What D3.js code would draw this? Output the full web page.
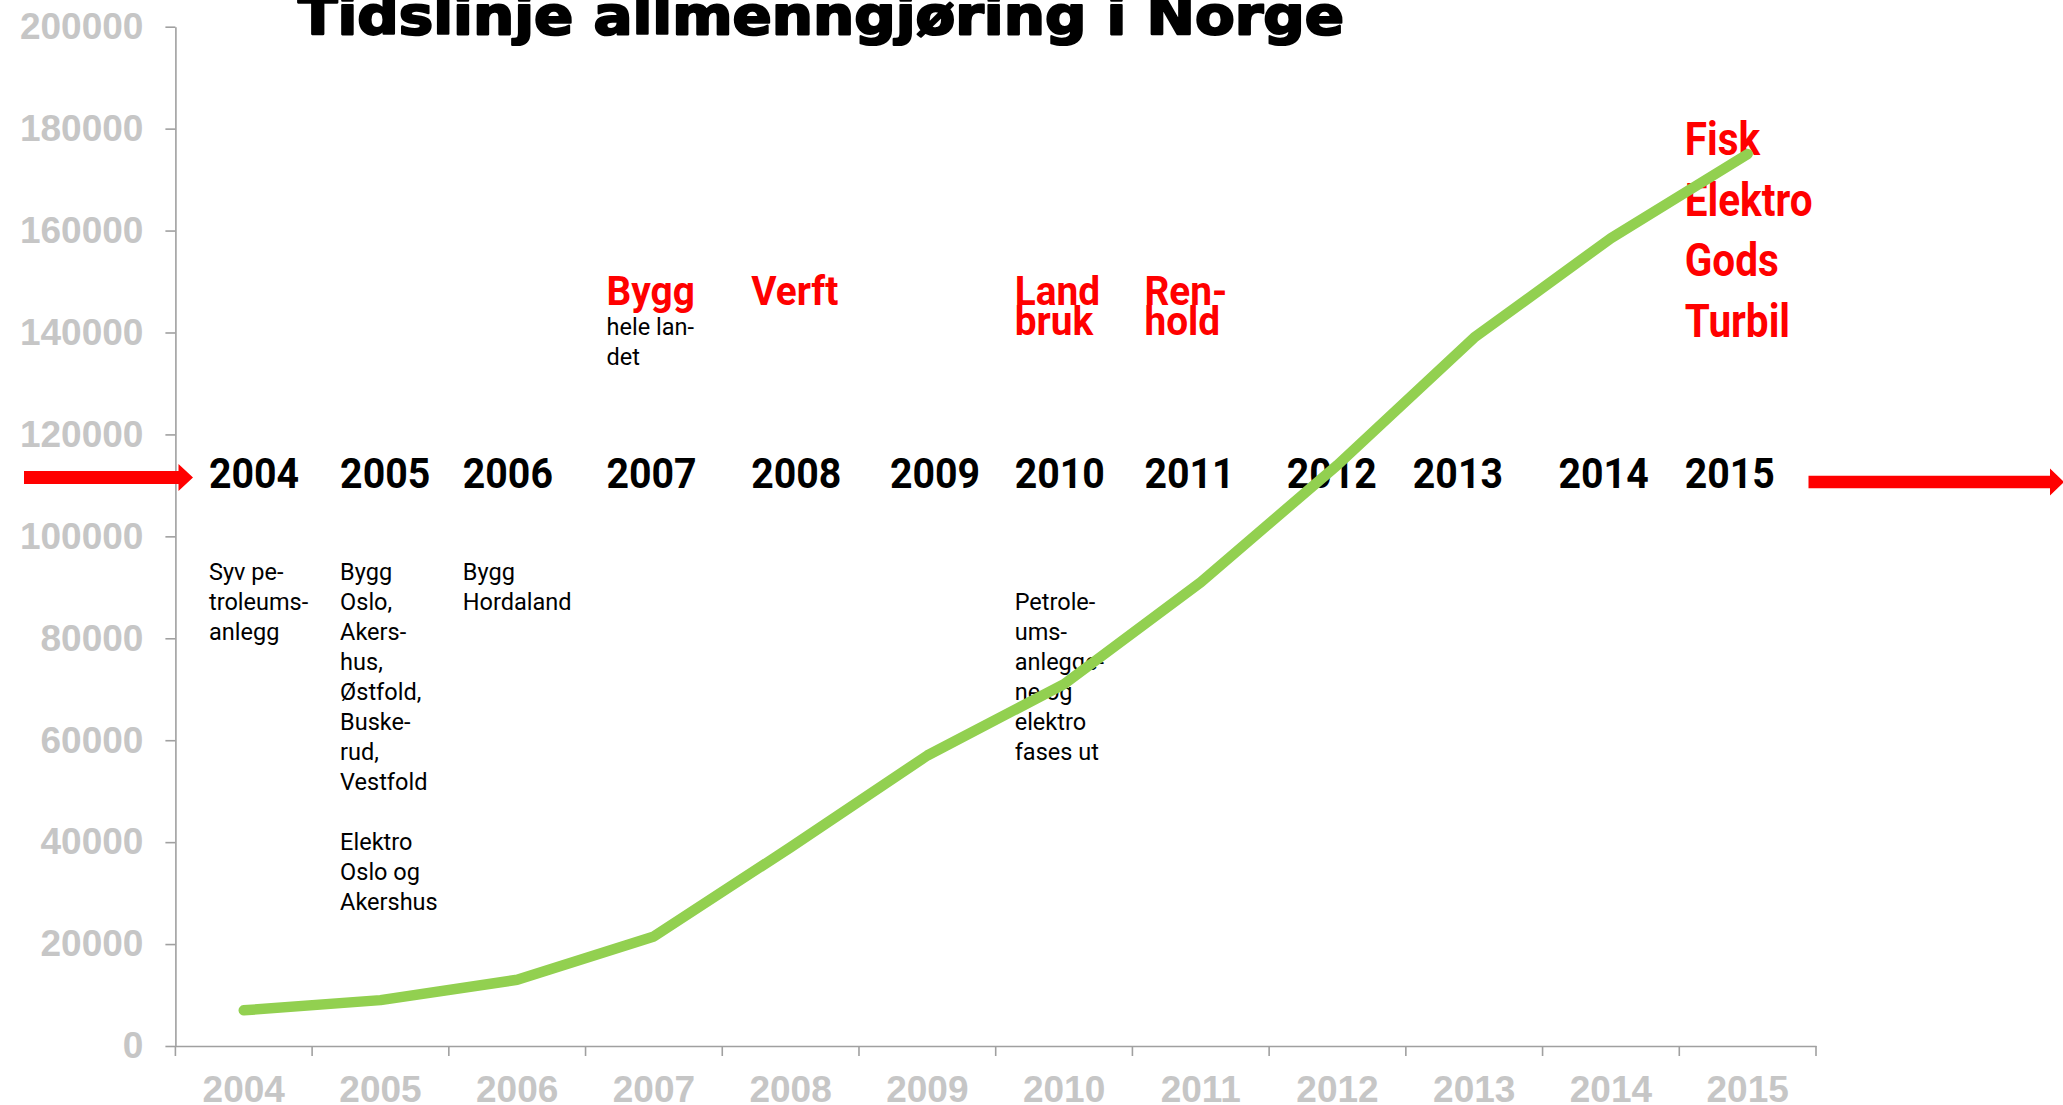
<!DOCTYPE html>
<html>
<head>
<meta charset="utf-8">
<script src="https://cdn.jsdelivr.net/npm/d3@7"></script>
<style>
  html, body { margin: 0; padding: 0; background: #fff; }
  svg { display: block; }
</style>
</head>
<body>
<svg id="chart" width="2063" height="1105"></svg>
<script>
// ---------- data ----------
const title = "Tidslinje allmenngjøring i Norge";
const years = ["2004","2005","2006","2007","2008","2009","2010","2011","2012","2013","2014","2015"];
const values = [7000, 9000, 13000, 21500, 39000, 57000, 71000, 91000, 114000, 139000, 158500, 175000];
const yTicks = [0, 20000, 40000, 60000, 80000, 100000, 120000, 140000, 160000, 180000, 200000];

// timeline overlay texts
const redLabels = {
  "2007": ["Bygg"],
  "2008": ["Verft"],
  "2010": ["Land", "bruk"],
  "2011": ["Ren-", "hold"]
};
const redBig = { "2015": ["Fisk", "Elektro", "Gods", "Turbil"] };
const notesAbove = { "2007": ["hele lan-", "det"] };
const notesBelow = {
  "2004": ["Syv pe-", "troleums-", "anlegg"],
  "2005": ["Bygg", "Oslo,", "Akers-", "hus,", "Østfold,", "Buske-", "rud,", "Vestfold", "", "Elektro", "Oslo og", "Akershus"],
  "2006": ["Bygg", "Hordaland"],
  "2010": ["", "Petrole-", "ums-", "anlegge-", "ne og", "elektro", "fases ut"]
};

// ---------- layout ----------
const W = 2063, H = 1105;
const plot = { left: 175.4, right: 1816, top: 26.7, bottom: 1046 };
// overlay text left offsets from each band's start (px)
const overlayOffset = [33.6, 28, 14, 21, 29, 31, 19, 12, 17.5, 7, 16, 5.5];

const svg = d3.select("#chart");

const x = d3.scaleBand().domain(years).range([plot.left, plot.right]).padding(0);
const y = d3.scaleLinear().domain([0, 200000]).range([plot.bottom, plot.top]);

const axisColor = "#a0a0a0";
const tickTextColor = "#c6c6c6";
const axisFont = "'Liberation Sans', Arial, sans-serif";
const overlayFont = "Roboto, 'Open Sans', sans-serif";

// Y axis
const gy = svg.append("g")
  .attr("transform", `translate(${plot.left},0)`)
  .call(d3.axisLeft(y).tickValues(yTicks).tickFormat(d3.format("d"))
    .tickSize(10).tickSizeOuter(0).tickPadding(22));
gy.select(".domain").attr("stroke", axisColor).attr("stroke-width", 1.6);
gy.selectAll(".tick line").attr("stroke", axisColor).attr("stroke-width", 1.6);
gy.selectAll(".tick text")
  .attr("fill", tickTextColor)
  .style("font-family", axisFont)
  .style("font-weight", "bold")
  .style("font-size", "37px");

// X axis
const gx = svg.append("g")
  .attr("transform", `translate(0,${plot.bottom})`)
  .call(d3.axisBottom(x).tickSize(0).tickSizeOuter(0).tickPadding(29.4));
gx.select(".domain").attr("stroke", axisColor).attr("stroke-width", 1.6);
gx.selectAll(".tick text")
  .attr("fill", tickTextColor)
  .style("font-family", axisFont)
  .style("font-weight", "bold")
  .style("font-size", "37px");
// tick marks between categories
const edges = years.map(d => x(d)).concat([x.range()[1]]);
gx.selectAll("line.edge").data(edges).enter().append("line")
  .attr("class", "edge")
  .attr("x1", d => d).attr("x2", d => d)
  .attr("y1", 0).attr("y2", 10)
  .attr("stroke", axisColor).attr("stroke-width", 1.6);

// Title
svg.append("text")
  .attr("x", 298).attr("y", 34)
  .attr("textLength", 1046).attr("lengthAdjust", "spacingAndGlyphs")
  .style("font-family", "'DejaVu Sans', Verdana, sans-serif")
  .style("font-weight", "bold")
  .style("font-size", "53px")
  .attr("fill", "#000")
  .attr("stroke", "#000")
  .attr("stroke-width", 2.2)
  .attr("stroke-linejoin", "round")
  .text(title);

// Red arrows
const arrowColor = "#ff0000";
function arrow(x0, x1, cy, shaftH, headH, headW) {
  const p = d3.path();
  p.moveTo(x0, cy - shaftH / 2);
  p.lineTo(x1 - headW, cy - shaftH / 2);
  p.lineTo(x1 - headW, cy - headH / 2);
  p.lineTo(x1, cy);
  p.lineTo(x1 - headW, cy + headH / 2);
  p.lineTo(x1 - headW, cy + shaftH / 2);
  p.lineTo(x0, cy + shaftH / 2);
  p.closePath();
  svg.append("path").attr("d", p.toString()).attr("fill", arrowColor);
}
arrow(24, 193, 477.5, 13, 27, 14.5);
arrow(1808.5, 2064, 482, 12.5, 27, 14);

// Overlay: timeline years and texts
const ov = svg.append("g").attr("class", "overlay");
const ox = d => x(d) + overlayOffset[years.indexOf(d)];

// middle row years
ov.selectAll("text.year").data(years).enter().append("text")
  .attr("class", "year")
  .attr("transform", d => `translate(${ox(d)},488) scale(0.935,1)`)
  .style("font-family", overlayFont)
  .style("font-weight", "bold")
  .style("font-size", "42px")
  .attr("fill", "#000")
  .text(d => d);

// red labels (Bygg, Verft, Land bruk, Ren- hold)
Object.entries(redLabels).forEach(([yr, lines]) => {
  lines.forEach((t, i) => {
    ov.append("text")
      .attr("transform", `translate(${ox(yr)},${305 + i * 30}) scale(0.97,1)`)
      .style("font-family", overlayFont)
      .style("font-weight", "bold")
      .style("font-size", "40px")
      .attr("fill", arrowColor)
      .text(t);
  });
});

// big red list (2015)
Object.entries(redBig).forEach(([yr, lines]) => {
  lines.forEach((t, i) => {
    ov.append("text")
      .attr("transform", `translate(${ox(yr)},${155 + i * 60.6}) scale(0.88,1)`)
      .style("font-family", overlayFont)
      .style("font-weight", "bold")
      .style("font-size", "46px")
      .attr("fill", arrowColor)
      .text(t);
  });
});

function notes(obj, startY) {
  Object.entries(obj).forEach(([yr, lines]) => {
    lines.forEach((t, i) => {
      if (!t) return;
      ov.append("text")
        .attr("x", ox(yr))
        .attr("y", startY + i * 30)
        .style("font-family", overlayFont)
        .style("font-size", "23.5px")
        .attr("fill", "#000")
        .text(t);
    });
  });
}
notes(notesAbove, 335);
notes(notesBelow, 580);

// Green line (on top)
const line = d3.line()
  .x((d, i) => x(years[i]) + x.bandwidth() / 2)
  .y(d => y(d));
svg.append("path")
  .datum(values)
  .attr("d", line)
  .attr("fill", "none")
  .attr("stroke", "#92d050")
  .attr("stroke-width", 10.5)
  .attr("stroke-linecap", "round")
  .attr("stroke-linejoin", "round");
</script>
</body>
</html>
